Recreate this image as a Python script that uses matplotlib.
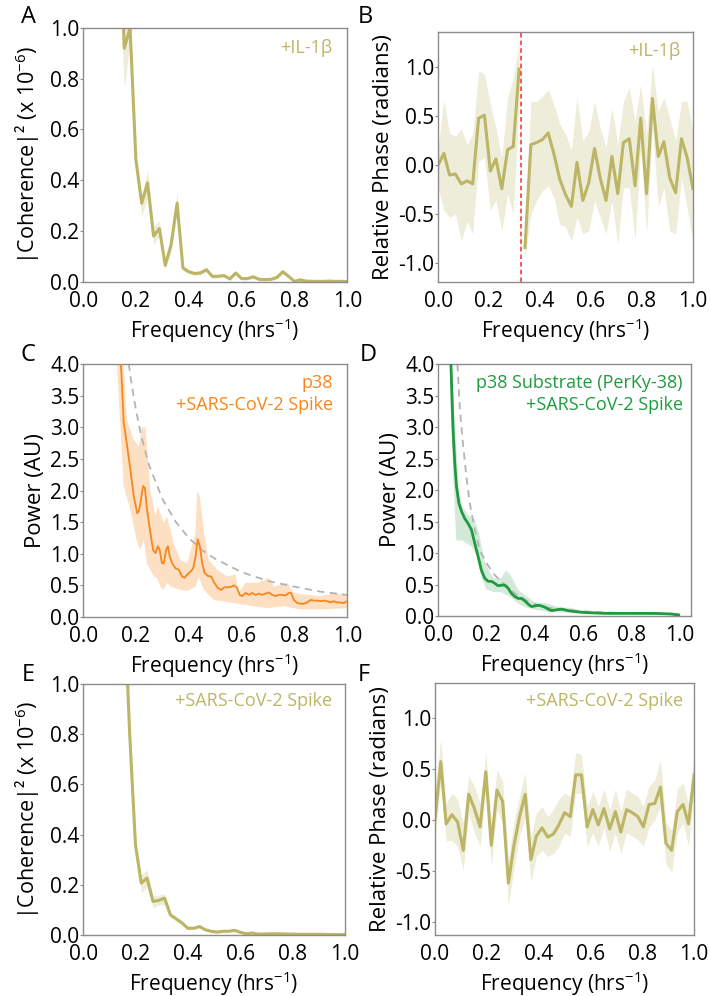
import matplotlib

matplotlib.use("Agg")
import matplotlib.pyplot as plt  # noqa: E402

plt.rcParams["font.family"] = ["Open Sans", "DejaVu Sans"]
plt.rcParams["mathtext.fontset"] = "custom"
plt.rcParams["mathtext.rm"] = "Open Sans"
plt.rcParams["mathtext.it"] = "Open Sans:italic"
plt.rcParams["mathtext.default"] = "regular"

OLIVE = "#bcb565"
OLIVE_FILL = "#eeedd9"
ORANGE = "#f7861c"
ORANGE_FILL = "#fde0c3"
GREEN = "#1f9a3e"
GREEN_FILL = "#d3eadb"
SPINE = "#8c8c8c"

# --- A: |coherence|^2, +IL-1b --------------------------------------------------
freq_a = [0.133, 0.156, 0.178, 0.2, 0.222, 0.244, 0.267, 0.289, 0.311, 0.333,
          0.356, 0.378, 0.4, 0.422, 0.444, 0.467, 0.489, 0.511, 0.533, 0.556,
          0.578, 0.6, 0.622, 0.644, 0.667, 0.689, 0.711, 0.733, 0.756, 0.778,
          0.8, 0.822, 0.844, 0.867, 0.889, 0.911, 0.933, 0.956, 0.978, 1.0]
coh_a = [1.6, 0.92, 1.0, 0.48, 0.31, 0.39, 0.18, 0.21, 0.065, 0.145,
         0.31, 0.055, 0.04, 0.033, 0.035, 0.048, 0.022, 0.022, 0.025, 0.012,
         0.035, 0.013, 0.013, 0.02, 0.01, 0.009, 0.01, 0.017, 0.04, 0.022,
         0.002, 0.008, 0.003, 0.002, 0.002, 0.002, 0.003, 0.002, 0.002, 0.001]
coh_a_lo = [1.3, 0.76, 0.95, 0.45, 0.26, 0.33, 0.15, 0.18, 0.05, 0.12,
            0.27, 0.045, 0.032, 0.026, 0.027, 0.04, 0.015, 0.015, 0.018, 0.006,
            0.027, 0.007, 0.007, 0.013, 0.004, 0.003, 0.004, 0.01, 0.03, 0.015,
            0.0, 0.003, 0.0, 0.0, 0.0, 0.0, 0.0, 0.0, 0.0, 0.0]
coh_a_hi = [1.9, 1.0, 1.05, 0.51, 0.33, 0.44, 0.22, 0.24, 0.08, 0.17,
            0.35, 0.065, 0.048, 0.04, 0.043, 0.056, 0.029, 0.029, 0.032, 0.018,
            0.043, 0.019, 0.019, 0.027, 0.016, 0.015, 0.016, 0.024, 0.05, 0.029,
            0.006, 0.013, 0.006, 0.005, 0.005, 0.005, 0.006, 0.005, 0.005, 0.004]

# --- B: relative phase, +IL-1b -----------------------------------------------
freq_b = [0.0, 0.023, 0.045, 0.068, 0.091, 0.114, 0.136, 0.159, 0.182, 0.205,
          0.227, 0.25, 0.273, 0.295, 0.318, 0.341, 0.364, 0.386, 0.409, 0.432,
          0.455, 0.477, 0.5, 0.523, 0.545, 0.568, 0.591, 0.614, 0.636, 0.659,
          0.682, 0.705, 0.727, 0.75, 0.773, 0.795, 0.818, 0.841, 0.864, 0.886,
          0.909, 0.932, 0.955, 0.977, 1.0]
phase_b = [0.0, 0.12, -0.10, -0.09, -0.19, -0.16, -0.19, 0.48, 0.51, -0.06,
           0.065, -0.24, 0.16, 0.19, 0.98, -0.84, 0.21, 0.23, 0.26, 0.33,
           0.11, -0.14, -0.30, -0.42, 0.03, -0.36, -0.18, 0.17, -0.13, -0.36,
           0.09, -0.29, 0.23, 0.27, -0.21, 0.48, -0.29, 0.68, 0.09, 0.24,
           -0.13, -0.28, 0.27, 0.08, -0.24]
phase_b_lo = [-0.23, -0.46, -0.53, -0.50, -0.77, -0.57, -0.70, 0.04, 0.08, -0.46,
              -0.36, -0.67, -0.29, -0.50, 0.65, -0.95, -0.50, -0.36, -0.26, -0.21,
              -0.33, -0.60, -0.63, -0.77, -0.53, -0.70, -0.67, -0.36, -0.53, -0.70,
              -0.36, -0.80, -0.23, -0.23, -0.77, 0.18, -0.70, 0.38, -0.43, -0.23,
              -0.67, -0.70, -0.13, -0.43, -0.78]
phase_b_hi = [0.18, 0.67, 0.32, 0.30, 0.37, 0.21, 0.32, 0.96, 0.93, 0.62,
              0.38, 0.08, 0.69, 0.89, 1.25, -0.65, 0.65, 0.65, 0.70, 0.77,
              0.62, 0.42, 0.32, 0.15, 0.69, 0.25, 0.35, 0.65, 0.38, 0.18,
              0.59, 0.21, 0.65, 0.79, 0.45, 0.82, 0.32, 1.03, 0.55, 0.69,
              0.48, 0.25, 0.65, 0.65, 0.35]
phase_break_b = 0.324

# --- C: power, p38 + spike ---------------------------------------------------
freq_c = [0.125, 0.14, 0.154, 0.167, 0.179, 0.192, 0.205, 0.211, 0.217, 0.227,
          0.234, 0.242, 0.253, 0.265, 0.274, 0.283, 0.29, 0.299, 0.306, 0.314,
          0.321, 0.328, 0.337, 0.35, 0.362, 0.375, 0.384, 0.394, 0.407, 0.417,
          0.426, 0.434, 0.442, 0.451, 0.46, 0.472, 0.485, 0.497, 0.51, 0.523,
          0.535, 0.548, 0.561, 0.573, 0.583, 0.593, 0.602, 0.615, 0.628, 0.64,
          0.653, 0.665, 0.678, 0.691, 0.703, 0.716, 0.729, 0.741, 0.754, 0.766,
          0.779, 0.788, 0.798, 0.811, 0.823, 0.836, 0.848, 0.861, 0.874, 0.886,
          0.899, 0.912, 0.924, 0.937, 0.949, 0.962, 0.975, 0.987, 1.0]
power_c = [5.6, 4.3, 3.07, 2.70, 2.33, 1.91, 1.64, 1.67, 1.80, 2.07,
           2.04, 1.70, 1.38, 1.06, 1.01, 1.12, 1.06, 0.85, 0.85, 1.06,
           1.12, 0.96, 0.85, 0.77, 0.75, 0.64, 0.62, 0.67, 0.72, 0.77,
           0.96, 1.23, 1.12, 0.85, 0.70, 0.65, 0.64, 0.54, 0.46, 0.43,
           0.47, 0.47, 0.48, 0.50, 0.46, 0.35, 0.33, 0.38, 0.35, 0.38,
           0.35, 0.37, 0.35, 0.37, 0.39, 0.35, 0.33, 0.35, 0.35, 0.34,
           0.38, 0.38, 0.27, 0.22, 0.21, 0.21, 0.23, 0.27, 0.26, 0.26,
           0.25, 0.26, 0.25, 0.23, 0.25, 0.23, 0.23, 0.22, 0.25]
band_c_hi_f = [0.122, 0.167, 0.192, 0.211, 0.223, 0.236, 0.255, 0.274, 0.283, 0.306,
               0.318, 0.343, 0.369, 0.394, 0.426, 0.432, 0.442, 0.46, 0.476, 0.508,
               0.545, 0.577, 0.59, 0.615, 0.659, 0.703, 0.722, 0.773, 0.798, 0.848,
               0.899, 0.949, 1.0]
band_c_hi = [6.0, 3.1, 2.8, 2.7, 3.0, 3.0, 2.0, 1.6, 1.75, 1.49,
             1.59, 1.17, 0.9, 0.85, 1.33, 2.0, 1.9, 1.27, 0.9, 0.75,
             0.64, 0.67, 0.38, 0.54, 0.54, 0.62, 0.48, 0.54, 0.38, 0.35,
             0.33, 0.38, 0.35]
band_c_lo_f = [0.122, 0.154, 0.179, 0.205, 0.217, 0.23, 0.242, 0.268, 0.28, 0.293,
               0.306, 0.318, 0.331, 0.369, 0.394, 0.426, 0.438, 0.457, 0.495, 0.571,
               0.646, 0.697, 0.76, 0.823, 0.899, 1.0]
band_c_lo = [4.5, 2.07, 1.7, 1.17, 1.06, 1.22, 0.85, 0.64, 0.62, 0.48,
             0.43, 0.54, 0.48, 0.43, 0.41, 0.48, 0.64, 0.43, 0.27, 0.22,
             0.17, 0.14, 0.17, 0.12, 0.12, 0.14]
fit_c_f = [0.15, 0.16, 0.17, 0.18, 0.2, 0.22, 0.25, 0.3, 0.35, 0.4,
           0.45, 0.5, 0.6, 0.7, 0.8, 0.9, 1.0]
fit_c = [5.0, 4.5, 4.1, 3.78, 3.28, 2.87, 2.40, 1.87, 1.51, 1.25,
         1.06, 0.92, 0.71, 0.57, 0.48, 0.40, 0.35]

# --- D: power, PerKy-38 + spike ----------------------------------------------
freq_d = [0.048, 0.062, 0.069, 0.076, 0.086, 0.097, 0.11, 0.124, 0.138, 0.152,
          0.166, 0.179, 0.193, 0.207, 0.221, 0.234, 0.248, 0.262, 0.276, 0.29,
          0.303, 0.317, 0.331, 0.345, 0.359, 0.372, 0.386, 0.4, 0.414, 0.428,
          0.441, 0.455, 0.469, 0.483, 0.51, 0.538, 0.566, 0.593, 0.621, 0.69,
          0.759, 0.828, 0.897, 0.966, 0.995]
power_d = [4.6, 2.96, 2.43, 2.06, 1.79, 1.66, 1.55, 1.47, 1.37, 1.15,
           0.94, 0.73, 0.60, 0.55, 0.55, 0.52, 0.48, 0.49, 0.49, 0.44,
           0.36, 0.31, 0.28, 0.28, 0.24, 0.19, 0.15, 0.16, 0.17, 0.16,
           0.14, 0.11, 0.085, 0.095, 0.11, 0.085, 0.07, 0.06, 0.053, 0.042,
           0.042, 0.042, 0.042, 0.032, 0.016]
band_d_hi_f = [0.05, 0.07, 0.086, 0.1, 0.124, 0.15, 0.17, 0.19, 0.21, 0.23,
               0.26, 0.28, 0.3, 0.33, 0.36, 0.4, 0.45, 0.5, 0.55, 0.6,
               0.7, 0.8, 0.9, 0.995]
band_d_hi = [4.5, 3.0, 2.0, 1.75, 1.6, 1.55, 1.3, 0.9, 0.72, 0.6,
             0.6, 0.72, 0.65, 0.42, 0.33, 0.22, 0.2, 0.14, 0.13, 0.08,
             0.065, 0.06, 0.055, 0.03]
band_d_lo_f = [0.05, 0.065, 0.075, 0.1, 0.12, 0.14, 0.16, 0.18, 0.2, 0.23,
               0.26, 0.3, 0.33, 0.36, 0.4, 0.45, 0.5, 0.6, 0.7, 0.8,
               0.9, 0.995]
band_d_lo = [3.5, 2.0, 1.2, 1.2, 1.15, 1.1, 0.95, 0.6, 0.42, 0.38,
             0.38, 0.3, 0.2, 0.14, 0.1, 0.07, 0.06, 0.04, 0.03, 0.03,
             0.03, 0.005]
fit_d_f = [0.07, 0.08, 0.09, 0.1, 0.117, 0.131, 0.152, 0.172, 0.2, 0.234,
           0.269, 0.317, 0.372, 0.428, 0.5, 0.6, 0.7, 0.8, 0.9, 1.0]
fit_d = [5.0, 4.0, 3.3, 2.85, 2.21, 1.79, 1.37, 1.05, 0.84, 0.65,
         0.52, 0.36, 0.23, 0.15, 0.11, 0.075, 0.055, 0.042, 0.033, 0.027]

# --- E: |coherence|^2, spike -------------------------------------------------
freq_e = freq_a[1:]
coh_e = [1.35, 0.8, 0.36, 0.207, 0.227, 0.134, 0.138, 0.147, 0.081,
         0.064, 0.048, 0.027, 0.027, 0.034, 0.021, 0.015, 0.012, 0.015, 0.015,
         0.019, 0.011, 0.005, 0.008, 0.004, 0.004, 0.005, 0.005, 0.005, 0.004,
         0.004, 0.003, 0.003, 0.003, 0.003, 0.003, 0.002, 0.002, 0.002, 0.002]
coh_e_lo = [1.3, 0.77, 0.34, 0.17, 0.19, 0.11, 0.12, 0.12, 0.07,
            0.056, 0.041, 0.021, 0.021, 0.028, 0.016, 0.01, 0.007, 0.01, 0.01,
            0.014, 0.006, 0.001, 0.004, 0.0, 0.0, 0.001, 0.001, 0.001, 0.0,
            0.0, 0.0, 0.0, 0.0, 0.0, 0.0, 0.0, 0.0, 0.0, 0.0]
coh_e_hi = [1.4, 0.83, 0.38, 0.24, 0.26, 0.155, 0.16, 0.165, 0.09,
            0.072, 0.055, 0.033, 0.033, 0.04, 0.026, 0.02, 0.017, 0.02, 0.02,
            0.024, 0.016, 0.009, 0.012, 0.008, 0.008, 0.009, 0.009, 0.009, 0.008,
            0.008, 0.007, 0.007, 0.007, 0.007, 0.007, 0.006, 0.006, 0.006, 0.006]

# --- F: relative phase, spike ------------------------------------------------
freq_f = [0.0, 0.022, 0.043, 0.065, 0.087, 0.109, 0.13, 0.152, 0.174, 0.196,
          0.217, 0.239, 0.261, 0.283, 0.304, 0.326, 0.348, 0.37, 0.391, 0.413,
          0.435, 0.457, 0.478, 0.5, 0.522, 0.543, 0.565, 0.587, 0.609, 0.63,
          0.652, 0.674, 0.696, 0.717, 0.739, 0.761, 0.783, 0.804, 0.826, 0.848,
          0.87, 0.891, 0.913, 0.935, 0.957, 0.978, 1.0]
phase_f = [0.0, 0.57, -0.04, 0.05, -0.02, -0.30, 0.25, 0.11, -0.07, 0.47,
           -0.25, 0.29, 0.18, -0.62, -0.26, 0.03, 0.25, -0.39, -0.16, -0.08,
           -0.17, -0.14, -0.05, 0.07, 0.03, 0.44, 0.44, -0.07, 0.10, -0.05,
           0.11, -0.09, 0.08, -0.12, 0.10, 0.07, 0.03, -0.07, 0.15, 0.16,
           0.32, -0.23, -0.30, 0.08, 0.15, -0.04, 0.44]
phase_f_lo = [-0.16, 0.36, -0.21, -0.20, -0.26, -0.49, 0.07, -0.13, -0.26, 0.30,
              -0.46, 0.10, -0.03, -0.84, -0.49, -0.16, 0.03, -0.61, -0.36, -0.30,
              -0.36, -0.33, -0.26, -0.13, -0.16, 0.26, 0.26, -0.26, -0.13, -0.26,
              -0.07, -0.31, -0.13, -0.33, -0.13, -0.16, -0.20, -0.26, -0.07, 0.0,
              0.13, -0.43, -0.51, -0.13, -0.03, -0.26, 0.26]
phase_f_hi = [0.26, 0.79, 0.16, 0.26, 0.20, -0.03, 0.43, 0.33, 0.16, 0.66,
              -0.03, 0.49, 0.38, -0.39, -0.03, 0.23, 0.46, -0.16, 0.07, 0.13,
              0.03, 0.10, 0.20, 0.26, 0.23, 0.66, 0.64, 0.13, 0.28, 0.13,
              0.30, 0.10, 0.30, 0.08, 0.30, 0.26, 0.23, 0.13, 0.33, 0.39,
              0.59, -0.03, -0.10, 0.30, 0.36, 0.16, 0.66]

FREQ_LABEL = "Frequency (hrs$^{-1}$)"
COH_LABEL = "|Coherence|² (x 10$^{-6}$)"
PHASE_LABEL = "Relative Phase (radians)"
POWER_LABEL = "Power (AU)"


def style_axes(ax, xlim, ylim, yticks):
    ax.set_xlim(*xlim)
    ax.set_ylim(*ylim)
    ax.set_xticks([0.0, 0.2, 0.4, 0.6, 0.8, 1.0])
    ax.set_yticks(yticks)
    ax.xaxis.set_major_formatter(matplotlib.ticker.FormatStrFormatter("%.1f"))
    ax.yaxis.set_major_formatter(matplotlib.ticker.FormatStrFormatter("%.1f"))
    for sp in ax.spines.values():
        sp.set_color(SPINE)
        sp.set_linewidth(1.0)
    ax.tick_params(axis="x", length=0, pad=6.5, labelsize=15)
    ax.tick_params(axis="y", length=2, width=0.8, color=SPINE, pad=0.5, labelsize=15)
    ax.set_xlabel(FREQ_LABEL, fontsize=15, labelpad=3)


def band(ax, f_hi, hi, f_lo, lo, color):
    ax.fill(list(f_hi) + list(f_lo)[::-1], list(hi) + list(lo)[::-1],
            color=color, lw=0, zorder=1)


fig = plt.figure(figsize=(7.1, 9.96), dpi=100)

ax_a = fig.add_axes([0.117, 0.717, 0.372, 0.255])
ax_b = fig.add_axes([0.617, 0.717, 0.359, 0.251])
ax_c = fig.add_axes([0.117, 0.3805, 0.372, 0.254])
ax_d = fig.add_axes([0.617, 0.3815, 0.356, 0.253])
ax_e = fig.add_axes([0.117, 0.0612, 0.369, 0.252])
ax_f = fig.add_axes([0.6127, 0.0612, 0.365, 0.253])

coh_ticks = [0.0, 0.2, 0.4, 0.6, 0.8, 1.0]
phase_ticks = [-1.0, -0.5, 0.0, 0.5, 1.0]
power_ticks = [0.0, 0.5, 1.0, 1.5, 2.0, 2.5, 3.0, 3.5, 4.0]

# A
ax_a.fill_between(freq_a, coh_a_lo, coh_a_hi, color=OLIVE_FILL, lw=0)
ax_a.plot(freq_a, coh_a, color=OLIVE, lw=2.2)
style_axes(ax_a, (0, 1), (0, 1), coh_ticks)
ax_a.set_ylabel(COH_LABEL, fontsize=15.5, labelpad=6)
ax_a.text(0.945, 0.955, "+IL-1β", color=OLIVE, fontsize=13,
          ha="right", va="top", transform=ax_a.transAxes)

# B: trace is broken at the phase wrap
cut = sum(1 for f in freq_b if f < phase_break_b)
for sl in (slice(0, cut), slice(cut, None)):
    ax_b.fill_between(freq_b[sl], phase_b_lo[sl], phase_b_hi[sl], color=OLIVE_FILL, lw=0)
    ax_b.plot(freq_b[sl], phase_b[sl], color=OLIVE, lw=2.2)
ax_b.axvline(phase_break_b, color="#ff2a2a", lw=1.1, ls=(0, (3, 2)))
style_axes(ax_b, (0, 1), (-1.19, 1.36), phase_ticks)
ax_b.set_ylabel(PHASE_LABEL, fontsize=16, labelpad=3)
ax_b.text(0.95, 0.96, "+IL-1β", color=OLIVE, fontsize=13,
          ha="right", va="top", transform=ax_b.transAxes)

# C
band(ax_c, band_c_hi_f, band_c_hi, band_c_lo_f, band_c_lo, ORANGE_FILL)
ax_c.plot(fit_c_f, fit_c, color="#b4b4b4", lw=1.3, ls=(0, (4, 3)), zorder=2)
ax_c.plot(freq_c, power_c, color=ORANGE, lw=1.3, zorder=3)
style_axes(ax_c, (0, 1), (0, 4), power_ticks)
ax_c.set_ylabel(POWER_LABEL, fontsize=16, labelpad=3)
ax_c.text(0.947, 0.96, "p38\n+SARS-CoV-2 Spike", color=ORANGE, fontsize=13,
          ha="right", va="top", linespacing=1.25, transform=ax_c.transAxes)

# D
band(ax_d, band_d_hi_f, band_d_hi, band_d_lo_f, band_d_lo, GREEN_FILL)
ax_d.plot(fit_d_f, fit_d, color="#b4b4b4", lw=1.3, ls=(0, (4, 3)), zorder=2)
ax_d.plot(freq_d, power_d, color=GREEN, lw=2.0, zorder=3)
style_axes(ax_d, (0, 1.045), (0, 4), power_ticks)
ax_d.set_ylabel(POWER_LABEL, fontsize=16, labelpad=3)
ax_d.text(0.968, 0.96, "p38 Substrate (PerKy-38)\n+SARS-CoV-2 Spike", color=GREEN,
          fontsize=13, ha="right", va="top", linespacing=1.25, transform=ax_d.transAxes)

# E
ax_e.fill_between(freq_e, coh_e_lo, coh_e_hi, color=OLIVE_FILL, lw=0)
ax_e.plot(freq_e, coh_e, color=OLIVE, lw=2.2)
style_axes(ax_e, (0, 1), (0, 1), coh_ticks)
ax_e.set_ylabel(COH_LABEL, fontsize=15.5, labelpad=6)
ax_e.text(0.95, 0.97, "+SARS-CoV-2 Spike", color=OLIVE, fontsize=13,
          ha="right", va="top", transform=ax_e.transAxes)

# F
ax_f.fill_between(freq_f, phase_f_lo, phase_f_hi, color=OLIVE_FILL, lw=0)
ax_f.plot(freq_f, phase_f, color=OLIVE, lw=2.2)
style_axes(ax_f, (0, 1), (-1.13, 1.34), phase_ticks)
ax_f.set_ylabel(PHASE_LABEL, fontsize=16, labelpad=3)
ax_f.text(0.957, 0.965, "+SARS-CoV-2 Spike", color=OLIVE, fontsize=13,
          ha="right", va="top", transform=ax_f.transAxes)

# panel letters
for letter, (px, py) in {"A": (28, 17), "B": (365, 17), "C": (28, 355),
                         "D": (368, 355), "E": (28, 675), "F": (364, 675)}.items():
    fig.text(px / 710, 1 - py / 996, letter, fontsize=17, ha="center", va="center")

fig.savefig("out.png", dpi=100)
